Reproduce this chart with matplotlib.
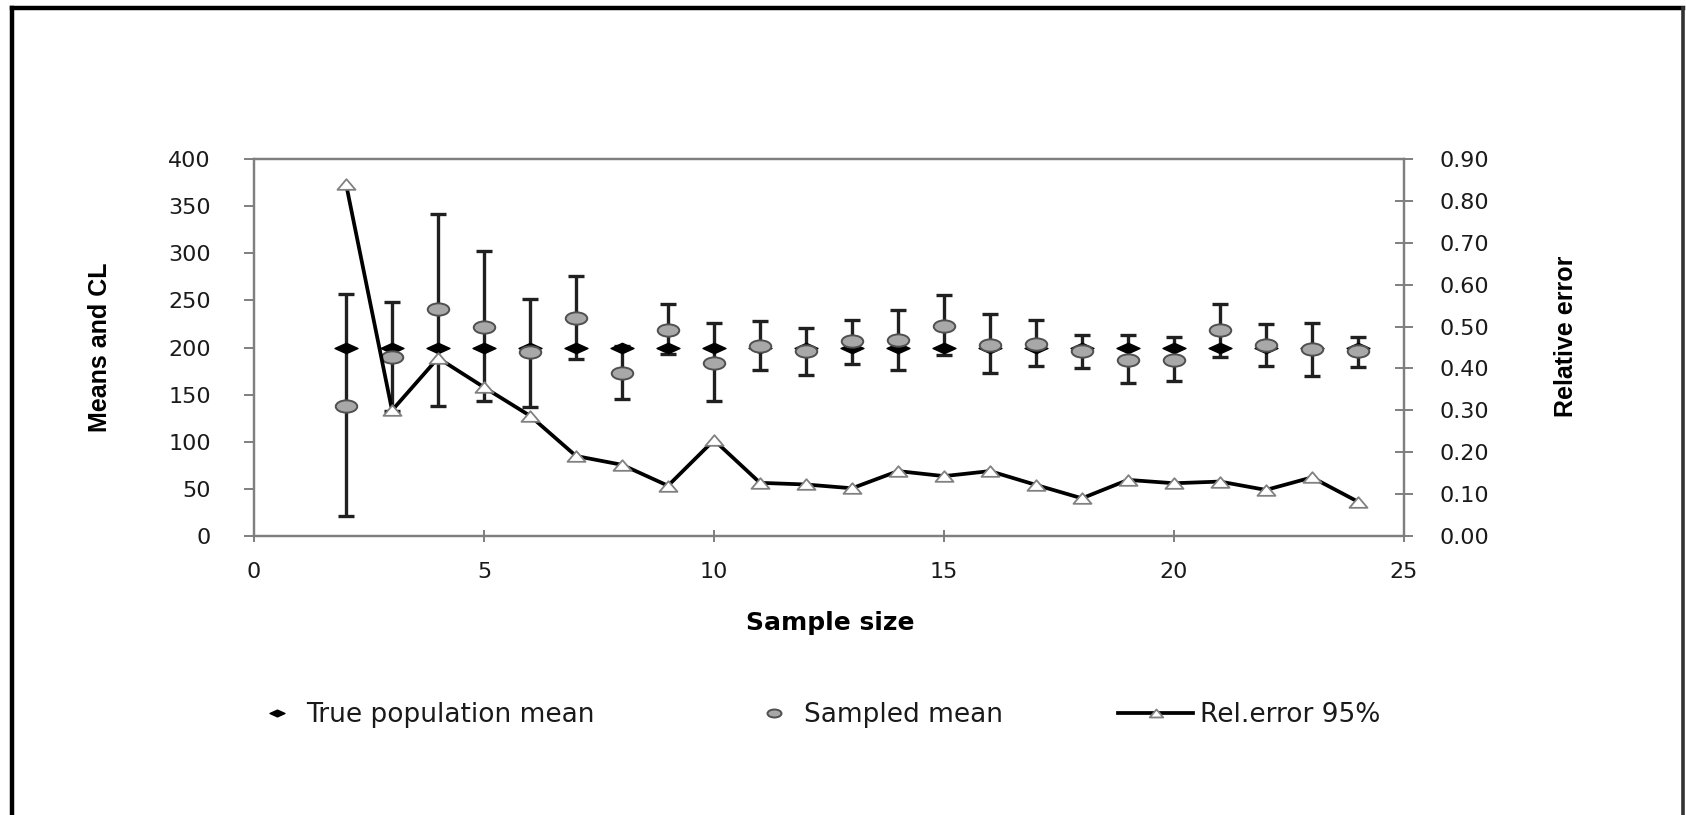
import numpy as np
import matplotlib
matplotlib.use('Agg')
import matplotlib.pyplot as plt
from matplotlib.path import Path
from matplotlib.transforms import Affine2D
from matplotlib.lines import Line2D

plt.rcParams['font.family'] = ['DejaVu Sans']

# ==================== data ====================
sample_size = [2, 3, 4, 5, 6, 7, 8, 9, 10, 11, 12, 13, 14, 15, 16, 17, 18, 19, 20, 21, 22, 23, 24]
true_mean = [200, 200, 200, 200, 200, 200, 200, 200, 200, 200, 200, 200,
             200, 200, 200, 200, 200, 200, 200, 200, 200, 200, 200]
sampled_mean = [138, 190, 241, 222, 195, 231, 173, 219, 184, 202, 196, 207,
                208, 223, 203, 204, 196, 187, 187, 219, 203, 198, 196]
ci_upper = [257, 248, 342, 302, 251, 276, 202, 246, 226, 228, 221, 229,
            240, 256, 236, 229, 213, 213, 211, 246, 225, 226, 211]
ci_lower = [21, 133, 138, 143, 137, 188, 145, 193, 143, 176, 171, 183,
            176, 192, 173, 180, 178, 162, 164, 190, 180, 170, 179]
rel_error = [0.84, 0.30, 0.425, 0.355, 0.287, 0.191, 0.17, 0.12, 0.229, 0.127, 0.123, 0.114,
             0.155, 0.143, 0.155, 0.122, 0.09, 0.134, 0.126, 0.13, 0.11, 0.14, 0.082]

left_ticks = [0, 50, 100, 150, 200, 250, 300, 350, 400]
right_ticks = [0.0, 0.1, 0.2, 0.3, 0.4, 0.5, 0.6, 0.7, 0.8, 0.9]
x_ticks = [0, 5, 10, 15, 20, 25]

# ==================== stretched markers (picture is wide) ====================
ellipse = Path.unit_circle().transformed(Affine2D().scale(1.75, 1.0))
diamond = Path([(-1.1, 0), (0, 0.5), (1.1, 0), (0, -0.5), (-1.1, 0)],
               [Path.MOVETO, Path.LINETO, Path.LINETO, Path.LINETO, Path.CLOSEPOLY])
triangle = Path([(-0.85, -0.5), (0.85, -0.5), (0, 0.5), (-0.85, -0.5)],
                [Path.MOVETO, Path.LINETO, Path.LINETO, Path.CLOSEPOLY])

# ==================== figure ====================
fig = plt.figure(figsize=(16.86, 8.15), dpi=100)
ax = fig.add_axes([0.1507, 0.3423, 0.682, 0.4626])
ax2 = ax.twinx()

x = np.array(sample_size)
sm = np.array(sampled_mean)
yerr = [sm - np.array(ci_lower), np.array(ci_upper) - sm]

ax.errorbar(x, sm, yerr=yerr, fmt='none', ecolor='#202020', elinewidth=2.4,
            capsize=5.8, capthick=2.4, zorder=2)
h_true, = ax.plot(x, true_mean, linestyle='none', marker=diamond, markersize=16.5,
                  color='black', markeredgecolor='black', zorder=3,
                  label='True population mean')
h_samp, = ax.plot(x, sm, linestyle='none', marker=ellipse, markersize=15.5,
                  markerfacecolor='#a8a8a8', markeredgecolor='#505050',
                  markeredgewidth=1.4, zorder=4, label='Sampled mean')
h_rel, = ax2.plot(x, rel_error, color='black', linewidth=2.7, marker=triangle,
                  markersize=13, markerfacecolor='white', markeredgecolor='#808080',
                  markeredgewidth=1.3, zorder=5, label='Rel.error 95%')

ax.set_xlim(0, 25)
ax.set_ylim(0, 400)
ax2.set_ylim(0, 0.9)
ax.set_xticks(x_ticks)
ax.set_yticks(left_ticks)
ax2.set_yticks(right_ticks)
ax2.set_yticklabels([f'{v:.2f}' for v in right_ticks])

for a in (ax, ax2):
    for s in a.spines.values():
        s.set_color('#7f7f7f')
        s.set_linewidth(1.6)

tick_font = dict(labelsize=16, labelcolor='#1a1a1a', color='#7f7f7f', width=1.4)
ax.tick_params(axis='y', direction='out', length=7, pad=24, **tick_font)
ax.tick_params(axis='x', direction='inout', length=8, pad=15, **tick_font)
ax2.tick_params(axis='y', direction='inout', length=13, pad=19, **tick_font)

title_font = dict(family=['Liberation Sans Narrow', 'Liberation Sans'],
                  fontweight='bold', fontsize=18, color='black')
ax.set_ylabel('Means and CL', **title_font)
ax.yaxis.set_label_coords(-0.1236, 0.5)
ax2.set_ylabel('Relative error', **title_font)
ax2.yaxis.set_label_coords(1.1305, 0.53)
ax.set_xlabel('Sample size', fontweight='bold', fontsize=18, color='black')
ax.xaxis.set_label_coords(0.501, -0.2)

# legend: one entry per box so each sits where the reference has it
leg_kw = dict(loc='center left', frameon=False, fontsize=19, borderpad=0,
              borderaxespad=0, labelcolor='#1a1a1a')
leg_y = 0.1227
fig.legend(handles=[h_true], bbox_to_anchor=(0.1565, leg_y), markerscale=0.65,
           handlelength=1.0, handletextpad=0.62, **leg_kw)
fig.legend(handles=[h_samp], bbox_to_anchor=(0.4513, leg_y), markerscale=0.65,
           handlelength=1.0, handletextpad=0.62, **leg_kw)
fig.legend(handles=[h_rel], bbox_to_anchor=(0.6631, leg_y), markerscale=0.75,
           handlelength=2.85, handletextpad=0.25, **leg_kw)

# outer frame of the pasted picture (bottom edge is cut off)
fig.add_artist(Line2D([0.0071, 0.0071], [0.0, 0.990], color='black', linewidth=3.2))
fig.add_artist(Line2D([0.0071, 0.9982], [0.990, 0.990], color='black', linewidth=3.2))
fig.add_artist(Line2D([0.9982, 0.9982], [0.0, 0.990], color='#333333', linewidth=2.6))

plt.savefig('out.png', dpi=100)
